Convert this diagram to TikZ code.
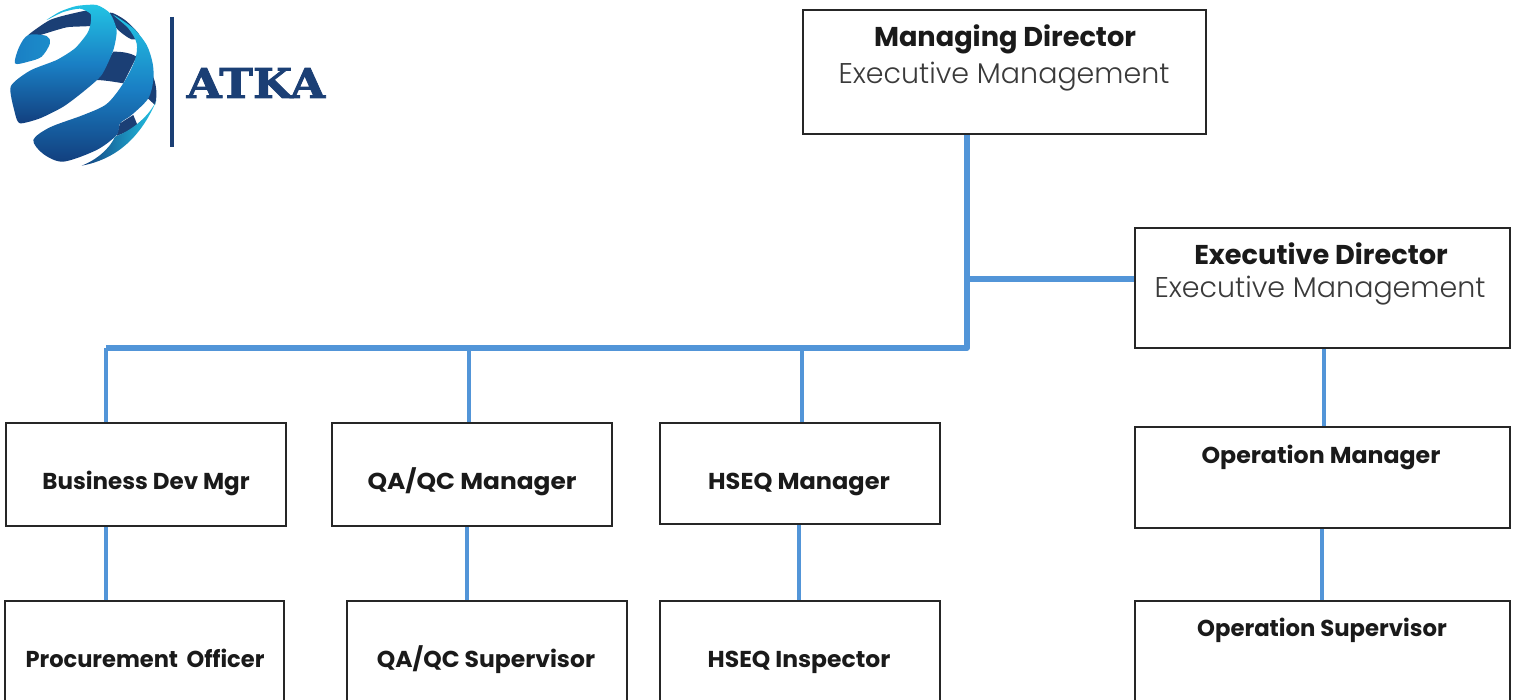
\documentclass[tikz,border=0pt]{standalone}
\usepackage{fontspec}
\setmainfont{Poppins}
\newfontfamily\lightfont[UprightFont=* Light]{Poppins}
\newfontfamily\logofont[BoldFeatures={FakeBold=2}]{DejaVu Serif}
\definecolor{linkblue}{HTML}{5295D8}
\definecolor{navy}{HTML}{1B3F75}
\definecolor{ink}{HTML}{1A1A1A}
\definecolor{soft}{HTML}{3A3A3A}
\definecolor{cyanl}{HTML}{22C4E4}
\definecolor{midb}{HTML}{1A7FC4}
\definecolor{deepb}{HTML}{123F7E}
\tikzset{
  x=1pt,y=-1pt,
  box/.style={draw=none,anchor=north west,inner sep=0pt,outer sep=0pt},
  frame/.style={draw=black!85,line width=1.4pt},
  thick link/.style={draw=linkblue,line width=5.2pt},
  thin link/.style={draw=linkblue,line width=3.6pt},
  head/.style={inner sep=0pt,anchor=base,text=ink,font=\fontsize{27.2}{30}\selectfont\bfseries},
  sub/.style={inner sep=0pt,anchor=base,text=soft,font=\lightfont\fontsize{28.5}{30}\selectfont},
  role/.style={inner sep=0pt,anchor=base,text=ink,font=\fontsize{23}{26}\selectfont\bfseries},
  ribbon/.style={shading angle=-40,top color=cyanl,bottom color=deepb,middle color=midb},
}
\begin{document}
\begin{tikzpicture}
\useasboundingbox (0,0) rectangle (1517,700);
\clip (0,0) rectangle (1517,700);
\fill[white] (0,0) rectangle (1517,700);

% logo
\begin{scope}[x=0.3333pt,y=-0.3333pt]
  \fill[navy] plot[smooth cycle,tension=0.5] coordinates {(330,38) (375,60) (418,105) (395,118) (350,85)};
  \fill[navy] plot[smooth cycle,tension=0.4] coordinates {(85,105) (150,60) (220,40) (285,30) (285,75) (200,82) (110,108)};
  \shade[left color=midb,right color=midb!80!cyanl] plot[smooth cycle,tension=0.5] coordinates {(45,190) (58,140) (85,105) (140,108) (150,130) (125,170) (85,185)};
  \fill[navy] (285,240) -- (340,155) .. controls (365,155) and (390,158) .. (410,170) -- (370,250) .. controls (340,245) and (310,240) .. (285,240) -- cycle;
  \fill[navy] (455,220) .. controls (470,250) and (473,285) .. (465,315) -- (440,292) .. controls (450,270) and (455,245) .. (455,220) -- cycle;
  \fill[navy] (360,370) -- (400,345) -- (415,382) -- (350,408) -- cycle;
  \shade[ribbon] plot[smooth cycle,tension=0.4] coordinates {(140,60) (180,35) (230,18) (290,15) (330,40) (350,90) (340,150) (305,225) (250,275) (190,320) (120,355) (60,370) (45,340) (32,260) (90,212) (170,180) (225,145) (262,100) (272,70) (272,42) (240,26) (190,36)};
  \shade[ribbon] plot[smooth cycle,tension=0.5] coordinates {(340,45) (400,85) (440,135) (458,190) (460,240) (445,295) (395,345) (360,370) (350,405) (290,450) (190,485) (130,462) (100,420) (150,382) (250,345) (320,312) (370,250) (405,180) (410,130) (385,85)};
  \shade[left color=deepb,right color=cyanl] (245,497) .. controls (340,480) and (420,420) .. (470,300)
    .. controls (450,345) and (400,390) .. (345,410) .. controls (330,445) and (290,480) .. (245,497) -- cycle;
\end{scope}
\draw[navy,line width=4pt] (172,17) -- (172,147);
\node[inner sep=0pt,anchor=base,text=navy,xscale=1.1,font=\logofont\fontsize{41}{44}\selectfont\bfseries] (logotext) at (256,98) {ATKA};

% boxes
\node[box,minimum width=403pt,minimum height=124pt] (md) at (803,10) {};
\node[box,minimum width=375pt,minimum height=120pt] (ed) at (1135,228) {};
\node[box,minimum width=280pt,minimum height=103pt] (bd) at (6,423) {};
\node[box,minimum width=280pt,minimum height=103pt] (qa) at (332,423) {};
\node[box,minimum width=280pt,minimum height=101pt] (hm) at (660,423) {};
\node[box,minimum width=375pt,minimum height=101pt] (om) at (1135,427) {};
\node[box,minimum width=279pt,minimum height=115pt] (po) at (5,601) {};
\node[box,minimum width=280pt,minimum height=115pt] (qs) at (347,601) {};
\node[box,minimum width=280pt,minimum height=115pt] (hi) at (660,601) {};
\node[box,minimum width=375pt,minimum height=115pt] (os) at (1135,601) {};

% connectors
\coordinate (trunk) at (967,348);
\coordinate (branch) at (967,279);
\coordinate (dropa) at (106,348);
\coordinate (dropb) at (469,348);
\coordinate (dropc) at (802,348);
\coordinate (dropd) at (1324,348);
\coordinate (dropo) at (1322,528);
\draw[thick link,line join=round] (md.south -| trunk) -- (trunk) -- (dropa);
\draw[thick link] (branch) -- (branch -| ed.west);
\draw[thin link] (dropa) -- (dropa |- bd.north);
\draw[thin link] (dropb) -- (dropb |- qa.north);
\draw[thin link] (dropc) -- (dropc |- hm.north);
\draw[thin link] (dropd) -- (dropd |- om.north);
\draw[thin link] (dropa |- bd.south) -- (dropa |- po.north);
\draw[thin link] (467,526) coordinate (qadrop) -- (qadrop |- qs.north);
\draw[thin link] (799,524) coordinate (hmdrop) -- (hmdrop |- hi.north);
\draw[thin link] (dropo) -- (dropo |- os.north);

% box outlines over link ends
\foreach \n in {md,ed,bd,qa,hm,om,po,qs,hi,os}{\draw[frame] (\n.north west) rectangle (\n.south east);}

% texts
\node[head] (t1) at (1005,47) {Managing Director};
\node[sub] (t2) at (1004,84) {Executive Management};
\node[head] (t3) at (1321,265) {Executive Director};
\node[sub] (t4) at (1320,298) {Executive Management};
\node[role] (t5) at (146,489) {Business Dev Mgr};
\node[role,xscale=1.08] (t6) at (472,489) {QA/QC Manager};
\node[role,xscale=1.045] (t7) at (799,489) {HSEQ Manager};
\node[role,xscale=1.03] (t8) at (1321,463) {Operation Manager};
\node[role,xscale=0.98] (t9) at (145,667) {Procurement\, Officer};
\node[role,xscale=1.02] (t10) at (486,667) {QA/QC Supervisor};
\node[role,xscale=1.02] (t11) at (799,667) {HSEQ Inspector};
\node[role,xscale=0.99] (t12) at (1322,636) {Operation Supervisor};
\end{tikzpicture}
\end{document}
